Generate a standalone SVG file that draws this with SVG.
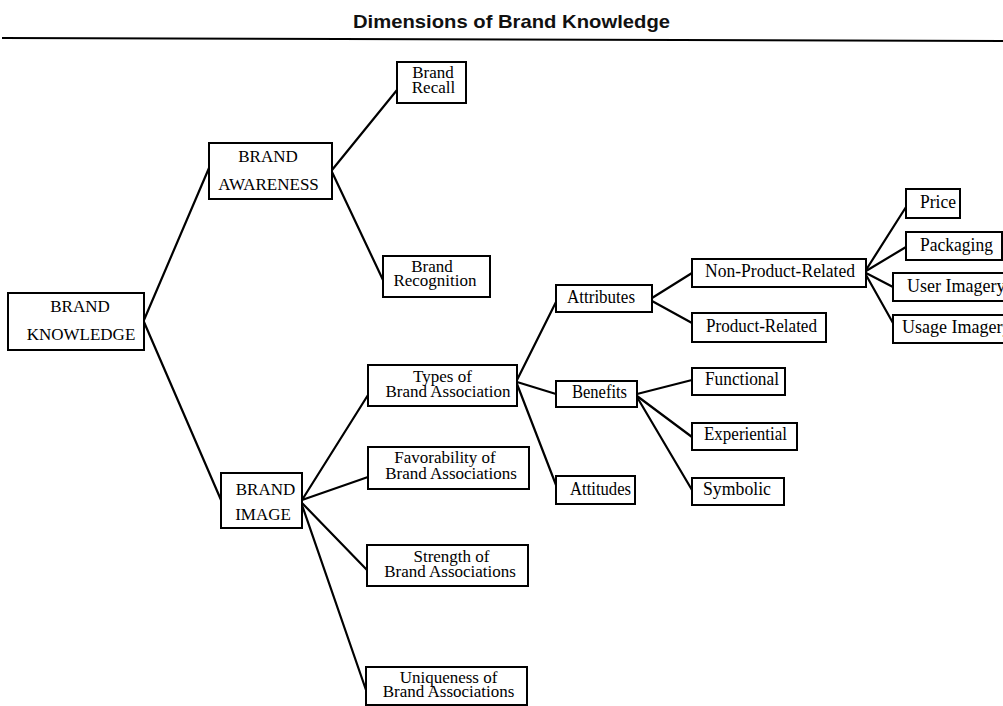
<svg xmlns="http://www.w3.org/2000/svg" width="1003" height="706" viewBox="0 0 1003 706">
<style>
.box{fill:#fff;stroke:#000;stroke-width:2}
.t{font-family:"Liberation Serif","Times New Roman",serif;font-size:17px;fill:#000;text-anchor:middle}
.l{font-size:18px}
.s{text-anchor:start}
.c line{stroke:#000;stroke-width:2.2;stroke-linecap:round}
.title{font-family:"Liberation Sans",Arial,sans-serif;font-weight:bold;font-size:19px;fill:#111}
</style>
<rect width="1003" height="706" fill="#fff"/>
<text class="title" x="353" y="28" textLength="317" lengthAdjust="spacingAndGlyphs">Dimensions of Brand Knowledge</text>
<line x1="2" y1="38" x2="1003" y2="41" stroke="#000" stroke-width="2"/>
<g class="c" id="connectors">
<line x1="144" y1="320" x2="209" y2="168"/>
<line x1="144" y1="322" x2="221" y2="500"/>
<line x1="332" y1="170" x2="397" y2="90"/>
<line x1="332" y1="172" x2="383" y2="280"/>
<line x1="302" y1="500" x2="368" y2="395"/>
<line x1="302" y1="500" x2="368" y2="477"/>
<line x1="302" y1="503" x2="367" y2="570"/>
<line x1="302" y1="505" x2="366" y2="690"/>
<line x1="517" y1="380" x2="556" y2="302"/>
<line x1="517" y1="382" x2="556" y2="394"/>
<line x1="517" y1="384" x2="556" y2="485"/>
<line x1="652" y1="298" x2="692" y2="273"/>
<line x1="652" y1="301" x2="692" y2="323"/>
<line x1="637" y1="394" x2="692" y2="380"/>
<line x1="637" y1="396" x2="692" y2="437"/>
<line x1="637" y1="397" x2="692" y2="490"/>
<line x1="866" y1="270" x2="906" y2="207"/>
<line x1="866" y1="271" x2="906" y2="247"/>
<line x1="866" y1="273" x2="893" y2="287"/>
<line x1="866" y1="275" x2="893" y2="323"/>
</g>
<g id="brand-knowledge"><rect class="box" x="8" y="293" width="136" height="57"/><text class="t" x="80" y="312">BRAND</text><text class="t" x="81" y="340">KNOWLEDGE</text></g>
<g id="brand-awareness"><rect class="box" x="209" y="143" width="123" height="56"/><text class="t" x="268" y="162">BRAND</text><text class="t" x="268.5" y="190">AWARENESS</text></g>
<g id="brand-recall"><rect class="box" x="397" y="62" width="69" height="41"/><text class="t" x="433" y="78">Brand</text><text class="t" x="433.5" y="93">Recall</text></g>
<g id="brand-recognition"><rect class="box" x="383" y="256" width="107" height="41"/><text class="t" x="432" y="272">Brand</text><text class="t" x="435" y="286">Recognition</text></g>
<g id="brand-image"><rect class="box" x="221" y="473" width="81" height="55"/><text class="t" x="265.5" y="495">BRAND</text><text class="t" x="263" y="520">IMAGE</text></g>
<g id="types"><rect class="box" x="368" y="365" width="149" height="41"/><text class="t" x="442.5" y="382">Types of</text><text class="t" x="448" y="397">Brand Association</text></g>
<g id="favorability"><rect class="box" x="368" y="447" width="161" height="42"/><text class="t" x="445" y="463">Favorability of</text><text class="t" x="451" y="479">Brand Associations</text></g>
<g id="strength"><rect class="box" x="367" y="545" width="161" height="41"/><text class="t" x="451.5" y="562">Strength of</text><text class="t" x="450" y="577">Brand Associations</text></g>
<g id="uniqueness"><rect class="box" x="366" y="667" width="161" height="38"/><text class="t" x="448.5" y="683">Uniqueness of</text><text class="t" x="448.5" y="697">Brand Associations</text></g>
<g id="attributes"><rect class="box" x="556" y="285" width="96" height="27"/><text class="t l" x="601" y="303" textLength="68" lengthAdjust="spacingAndGlyphs">Attributes</text></g>
<g id="benefits"><rect class="box" x="556" y="381" width="81" height="26"/><text class="t l" x="599.5" y="398" textLength="55" lengthAdjust="spacingAndGlyphs">Benefits</text></g>
<g id="attitudes"><rect class="box" x="556" y="476" width="79" height="28"/><text class="t l" x="600.5" y="495" textLength="61" lengthAdjust="spacingAndGlyphs">Attitudes</text></g>
<g id="non-product-related"><rect class="box" x="692" y="259" width="174" height="28"/><text class="t l" x="780" y="277" textLength="150" lengthAdjust="spacingAndGlyphs">Non-Product-Related</text></g>
<g id="product-related"><rect class="box" x="692" y="313" width="134" height="29"/><text class="t l" x="761.5" y="332" textLength="111" lengthAdjust="spacingAndGlyphs">Product-Related</text></g>
<g id="functional"><rect class="box" x="692" y="368" width="93" height="27"/><text class="t l" x="742" y="385" textLength="74" lengthAdjust="spacingAndGlyphs">Functional</text></g>
<g id="experiential"><rect class="box" x="692" y="423" width="105" height="27"/><text class="t l" x="745.5" y="440" textLength="83" lengthAdjust="spacingAndGlyphs">Experiential</text></g>
<g id="symbolic"><rect class="box" x="692" y="478" width="92" height="27"/><text class="t l" x="737" y="495" textLength="68" lengthAdjust="spacingAndGlyphs">Symbolic</text></g>
<g id="price"><rect class="box" x="906" y="189" width="54" height="29"/><text class="t l" x="938" y="208" textLength="36" lengthAdjust="spacingAndGlyphs">Price</text></g>
<g id="packaging"><rect class="box" x="906" y="232" width="96" height="28"/><text class="t l" x="956.5" y="251" textLength="73" lengthAdjust="spacingAndGlyphs">Packaging</text></g>
<g id="user-imagery"><rect class="box" x="893" y="273" width="115" height="28"/><text class="t l s" x="907" y="292">User Imagery</text></g>
<g id="usage-imagery"><rect class="box" x="893" y="315" width="115" height="28"/><text class="t l s" x="902" y="333">Usage Imagery</text></g>
</svg>
